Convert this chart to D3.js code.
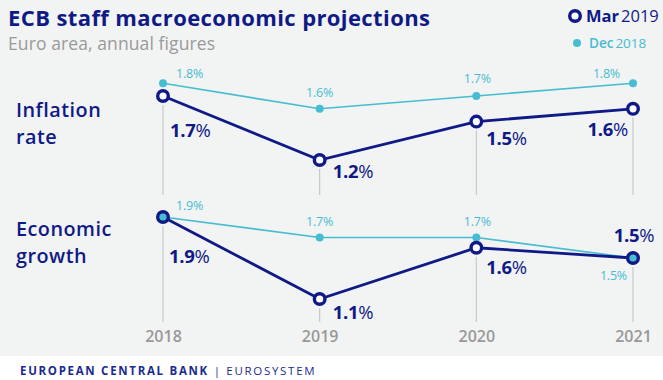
<!DOCTYPE html>
<html><head><meta charset="utf-8">
<script src="https://cdn.jsdelivr.net/npm/d3@7"></script>
<style>
html,body{margin:0;padding:0;background:#fff;}
svg{display:block;}
</style></head><body>
<script>
// ---- data ----
const years = [2018, 2019, 2020, 2021];
const inflationMar = [1.7, 1.2, 1.5, 1.6];
const inflationDec = [1.8, 1.6, 1.7, 1.8];
const growthMar = [1.9, 1.1, 1.6, 1.5];
const growthDec = [1.9, 1.7, 1.7, 1.5];

const W = 663, H = 380;
const NAVY = "#0f1a87", TEAL = "#47bdd1", GRAY = "#999999";
const FONT = "'Open Sans', 'Noto Sans', sans-serif";

const svg = d3.select("body").append("svg").attr("width", W).attr("height", H)
  .style("font-family", FONT);

svg.append("rect").attr("width", W).attr("height", 356).attr("fill", "#f2f3f3");
svg.append("rect").attr("y", 356).attr("width", W).attr("height", H - 356).attr("fill", "#ffffff");

// title
svg.append("text").attr("x", 8).attr("y", 26).attr("fill", NAVY)
  .attr("font-size", 22).attr("font-weight", 700).attr("letter-spacing", 0.4)
  .text("ECB staff macroeconomic projections");
svg.append("text").attr("x", 8).attr("y", 50).attr("fill", "#9a9a9a")
  .attr("font-size", 17.5).attr("letter-spacing", 0.1)
  .text("Euro area, annual figures");

// legend
svg.append("circle").attr("cx", 575).attr("cy", 16).attr("r", 5.3)
  .attr("fill", "#fff").attr("stroke", NAVY).attr("stroke-width", 3.4);
const lg1 = svg.append("text").attr("x", 586).attr("y", 22).attr("fill", NAVY).attr("font-size", 16.5);
lg1.append("tspan").attr("font-weight", 700).text("Mar");
lg1.append("tspan").attr("dx", 2).text("2019");
svg.append("circle").attr("cx", 577).attr("cy", 43).attr("r", 4).attr("fill", TEAL);
const lg2 = svg.append("text").attr("x", 589).attr("y", 48).attr("fill", TEAL).attr("font-size", 13.5);
lg2.append("tspan").attr("font-weight", 600).text("Dec");
lg2.append("tspan").attr("dx", 2).text("2018");

// row labels
function rowLabel(lines, y0) {
  lines.forEach((l, i) => svg.append("text").attr("x", 16).attr("y", y0 + i * 27)
    .attr("fill", NAVY).attr("font-size", 19.8).attr("font-weight", 600)
    .attr("letter-spacing", 0.5).text(l));
}
rowLabel(["Inflation", "rate"], 117);
rowLabel(["Economic", "growth"], 236);

// scales
const x = d3.scaleLinear().domain([2018, 2021]).range([163, 633]);
const yInf = d3.scaleLinear().domain([1.2, 1.8]).range([160, 83.2]);
const yGro = d3.scaleLinear().domain([1.1, 1.9]).range([299, 217]);

// label placement (dx, dy relative to point, anchor)
const infMarPos = [[7, 41, "start"], [13, 18, "start"], [10, 23, "start"], [-5, 27, "end"]];
const infDecPos = [[13, -5, "start"], [0, -12, "middle"], [1, -13, "middle"], [-13, -5, "end"]];
const groMarPos = [[6, 46, "start"], [13, 20, "start"], [10, 26, "start"], [1, -16, "middle"]];
const groDecPos = [[13, -7, "start"], [0, -12, "middle"], [1, -12, "middle"], [-6, 22, "end"]];

function panel(yScale, mar, dec, lineBottom, marPos, decPos) {
  const g = svg.append("g");
  // vertical guides
  g.selectAll("line.guide").data(years).join("line")
    .attr("x1", d => x(d)).attr("x2", d => x(d))
    .attr("y1", (d, i) => yScale(mar[i]) + 9).attr("y2", lineBottom)
    .attr("stroke", "#c4c4c4").attr("stroke-width", 1.1);
  const line = d3.line().x((d, i) => x(years[i])).y(d => yScale(d));
  g.append("path").datum(dec).attr("d", line).attr("fill", "none")
    .attr("stroke", TEAL).attr("stroke-width", 1.6);
  g.append("path").datum(mar).attr("d", line).attr("fill", "none")
    .attr("stroke", NAVY).attr("stroke-width", 2.8);
  g.selectAll("circle.mfill").data(mar).join("circle")
    .attr("cx", (d, i) => x(years[i])).attr("cy", d => yScale(d)).attr("r", 5.3).attr("fill", "#fff");
  g.selectAll("circle.dec").data(dec).join("circle")
    .attr("cx", (d, i) => x(years[i])).attr("cy", d => yScale(d)).attr("r", 4).attr("fill", TEAL);
  g.selectAll("circle.mring").data(mar).join("circle")
    .attr("cx", (d, i) => x(years[i])).attr("cy", d => yScale(d)).attr("r", 5.3)
    .attr("fill", "none").attr("stroke", NAVY).attr("stroke-width", 3.4);
  // labels
  mar.forEach((v, i) => {
    const p = marPos[i];
    const t = g.append("text").attr("x", x(years[i]) + p[0]).attr("y", yScale(v) + p[1])
      .attr("text-anchor", p[2]).attr("fill", NAVY).attr("font-size", 18.5).attr("letter-spacing", -0.3);
    t.append("tspan").attr("font-weight", 700).text(v.toFixed(1));
    t.append("tspan").attr("font-weight", 400).text("%");
  });
  dec.forEach((v, i) => {
    const p = decPos[i];
    g.append("text").attr("x", x(years[i]) + p[0]).attr("y", yScale(v) + p[1])
      .attr("text-anchor", p[2]).attr("fill", TEAL).attr("font-size", 12.5).attr("letter-spacing", -0.2)
      .text(v.toFixed(1) + "%");
  });
}
panel(yInf, inflationMar, inflationDec, 195, infMarPos, infDecPos);
panel(yGro, growthMar, growthDec, 322, groMarPos, groDecPos);

// year axis
const axis = svg.append("g").attr("transform", "translate(0,327)")
  .call(d3.axisBottom(x).tickValues(years).tickFormat(d3.format("d")).tickSize(0).tickPadding(0));
axis.select(".domain").remove();
axis.selectAll("text").attr("fill", GRAY).attr("font-size", 16).attr("font-weight", 600)
  .attr("font-family", FONT).attr("dy", "0.95em");

// footer
const ft = svg.append("text").attr("x", 20).attr("y", 375).attr("fill", "#1a2b8f")
  .attr("font-size", 11.5).attr("letter-spacing", 1.7);
ft.append("tspan").attr("font-weight", 700).text("EUROPEAN CENTRAL BANK");
ft.append("tspan").attr("font-weight", 400).text(" | EUROSYSTEM");
</script>
</body></html>
